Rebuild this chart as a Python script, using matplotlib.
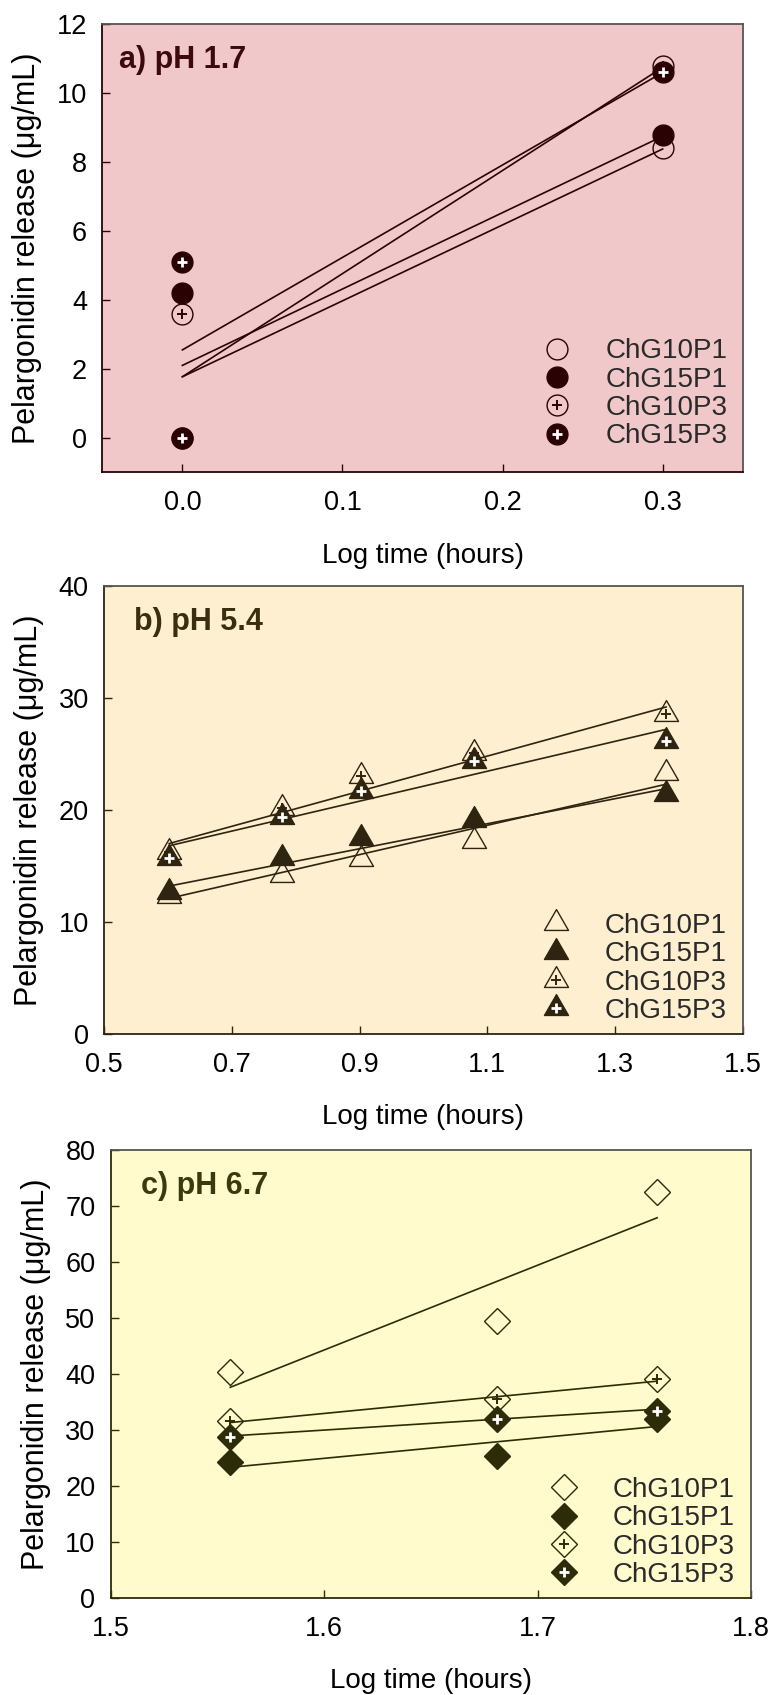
import matplotlib
matplotlib.use('Agg')
import matplotlib.pyplot as plt
from matplotlib.lines import Line2D
from matplotlib.path import Path

plt.rcParams['font.family'] = ['Liberation Sans', 'DejaVu Sans']

series = ['ChG10P1', 'ChG15P1', 'ChG10P3', 'ChG15P3']

# a) pH 1.7
a_x = {'ChG10P1': [0.0, 0.3], 'ChG15P1': [0.0, 0.3],
       'ChG10P3': [0.0, 0.3], 'ChG15P3': [0.0, 0.0, 0.3]}
a_y = {'ChG10P1': [0.0, 8.4], 'ChG15P1': [4.2, 8.8],
       'ChG10P3': [3.6, 10.8], 'ChG15P3': [5.1, 0.0, 10.6]}
a_fit_x = [0.0, 0.3]
a_fit = {'ChG10P1': [1.77, 8.38], 'ChG15P1': [2.1, 8.75],
         'ChG10P3': [1.77, 10.75], 'ChG15P3': [2.55, 10.6]}

# b) pH 5.4
b_x = [0.602, 0.778, 0.903, 1.079, 1.380]
b_y = {'ChG10P1': [12.3, 14.2, 15.6, 17.2, 23.3],
       'ChG15P1': [12.7, 15.7, 17.5, 19.1, 21.4],
       'ChG10P3': [16.2, 20.2, 23.0, 25.1, 28.6],
       'ChG15P3': [15.7, 19.4, 21.7, 24.4, 26.2]}
b_fit_x = [0.602, 1.380]
b_fit = {'ChG10P1': [12.1, 22.3], 'ChG15P1': [13.2, 21.9],
         'ChG10P3': [17.0, 29.2], 'ChG15P3': [16.8, 27.2]}

# c) pH 6.7
c_x = [1.556, 1.681, 1.756]
c_y = {'ChG10P1': [40.4, 49.4, 72.5],
       'ChG15P1': [24.2, 25.4, 31.9],
       'ChG10P3': [31.6, 35.6, 39.1],
       'ChG15P3': [28.8, 31.9, 33.4]}
c_fit_x = [1.556, 1.756]
c_fit = {'ChG10P1': [37.6, 67.9], 'ChG15P1': [23.3, 30.6],
         'ChG10P3': [31.3, 38.7], 'ChG15P3': [28.9, 33.7]}

# equilateral triangle marker
tri = Path([(0, 1), (-0.866, -0.5), (0.866, -0.5), (0, 1)], closed=True)

panels = [
    dict(title='a) pH 1.7', xs=a_x, ys=a_y, fx=a_fit_x, fit=a_fit,
         xlim=(-0.05, 0.35), ylim=(-1, 12), xticks=[0.0, 0.1, 0.2, 0.3],
         yticks=range(0, 13, 2), marker='o', ms=15, pms=7,
         bg='#f0c8c9', fg='#2a0204', tc='#3c0a0c',
         pos=[0.1322, 0.7214, 0.8274, 0.2643], title_dx=0.026, leg=(0.688, 0.299)),
    dict(title='b) pH 5.4', xs=b_x, ys=b_y, fx=b_fit_x, fit=b_fit,
         xlim=(0.5, 1.5), ylim=(0, 40), xticks=[0.5, 0.7, 0.9, 1.1, 1.3, 1.5],
         yticks=range(0, 41, 10), marker=tri, ms=20, pms=7,
         bg='#fdefcf', fg='#2e2410', tc='#3a2e10',
         pos=[0.1344, 0.3901, 0.8252, 0.2641], title_dx=0.047, leg=(0.686, 0.270)),
    dict(title='c) pH 6.7', xs=c_x, ys=c_y, fx=c_fit_x, fit=c_fit,
         xlim=(1.5, 1.8), ylim=(0, 80), xticks=[1.5, 1.6, 1.7, 1.8],
         yticks=range(0, 81, 10), marker='D', ms=13.5, pms=7,
         bg='#fffbcc', fg='#2c2c08', tc='#3a3a10',
         pos=[0.1430, 0.0574, 0.8273, 0.2641], title_dx=0.047, leg=(0.686, 0.270)),
]

fig = plt.figure(figsize=(7.74, 16.95), dpi=100)

for p in panels:
    ax = fig.add_axes(p['pos'])
    ax.set_facecolor(p['bg'])
    fg = p['fg']
    handles = []
    for name in series:
        xs = p['xs'][name] if isinstance(p['xs'], dict) else p['xs']
        ys = p['ys'][name]
        filled = '15' in name
        plus = name.endswith('P3')
        ax.plot(p['fx'], p['fit'][name], color=fg, lw=1.2, zorder=2)
        ax.plot(xs, ys, ls='none', marker=p['marker'], ms=p['ms'],
                mfc=fg if filled else 'none', mec=fg, mew=1.0, zorder=3)
        h = [Line2D([], [], ls='none', marker=p['marker'], ms=p['ms'],
                    mfc=fg if filled else 'none', mec=fg, mew=1.0)]
        if plus:
            pc = 'white' if filled else fg
            pw = 2.0 if filled else 1.4
            ax.plot(xs, ys, ls='none', marker='+', ms=p['pms'], mec=pc,
                    mew=pw, zorder=4)
            h.append(Line2D([], [], ls='none', marker='+', ms=p['pms'],
                            mec=pc, mew=pw))
        handles.append(tuple(h))

    ax.set_xlim(p['xlim'])
    ax.set_ylim(p['ylim'])
    ax.set_xticks(p['xticks'])
    ax.set_xticklabels([f'{v:.1f}' for v in p['xticks']])
    ax.set_yticks(list(p['yticks']))
    ax.tick_params(direction='in', length=6, width=1, colors=fg,
                   labelcolor='black', labelsize=19.5, pad=11)
    ax.tick_params(axis='x', pad=13)
    for side in ['top', 'right']:
        ax.spines[side].set_color('#555555')
    for side in ['left', 'bottom']:
        ax.spines[side].set_color(fg)
    for sp in ax.spines.values():
        sp.set_linewidth(1.3)

    ax.set_xlabel('Log time (hours)', fontsize=20, labelpad=19)
    ax.set_ylabel('Pelargonidin release (\u03bcg/mL)', fontsize=22, labelpad=10.5)

    ax.text(p['title_dx'], 0.902, p['title'], transform=ax.transAxes,
            fontsize=22, fontweight='bold', color=p['tc'], va='baseline')

    ax.legend(handles, series, loc='upper left', bbox_to_anchor=p['leg'],
              frameon=False, fontsize=20, handlelength=1.0, handletextpad=1.26,
              labelspacing=0.086, borderpad=0, borderaxespad=0,
              labelcolor='#2a2a2a')

fig.savefig('out.png', dpi=100)
